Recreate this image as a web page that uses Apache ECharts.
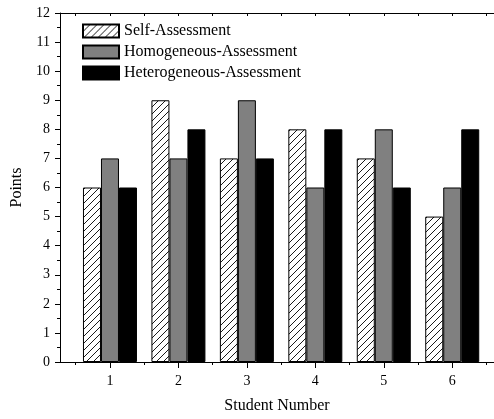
<!DOCTYPE html>
<html>
<head>
<meta charset="utf-8">
<script src="https://cdn.jsdelivr.net/npm/echarts@6/dist/echarts.min.js"></script>
<style>
  html, body { margin: 0; padding: 0; background: #fff; }
  #chart { width: 494px; height: 419px; }
</style>
</head>
<body>
<div id="chart"></div>
<script>
const students = [1, 2, 3, 4, 5, 6];
const selfScores = [6, 9, 7, 8, 7, 5];
const homoScores = [7, 7, 9, 6, 8, 6];
const heteroScores = [6, 8, 7, 8, 6, 8];
const yTicks = [0, 1, 2, 3, 4, 5, 6, 7, 8, 9, 10, 11, 12];
const halfTicks = [0.5, 1.5, 2.5, 3.5, 4.5, 5.5, 6.5];

const font = 'Liberation Serif';

// hatch pattern "/" for self-assessment bars
const hatch = document.createElement('canvas');
hatch.width = 7;
hatch.height = 7;
const hc = hatch.getContext('2d');
hc.fillStyle = '#fff';
hc.fillRect(0, 0, 7, 7);
hc.strokeStyle = '#000';
hc.lineWidth = 0.9;
hc.beginPath();
hc.moveTo(-1, 8); hc.lineTo(8, -1);
hc.moveTo(-1, 1); hc.lineTo(1, -1);
hc.moveTo(6, 8); hc.lineTo(8, 6);
hc.stroke();

const pairs = (vals) => students.map((s, i) => [s, vals[i]]);

const chart = echarts.init(document.getElementById('chart'));
const baseX = { type: 'value', min: 0.27, max: 6.61, splitLine: { show: false } };

chart.setOption({
  animation: false,
  grid: { left: 60, right: 0, top: 13, bottom: 52 },
  legend: {
    orient: 'vertical',
    left: 82,
    top: 23,
    padding: 0,
    icon: 'rect',
    itemWidth: 36,
    itemHeight: 13,
    itemGap: 5,
    textStyle: { fontFamily: font, fontSize: 16, color: '#000' },
    data: ['Self-Assessment', 'Homogeneous-Assessment', 'Heterogeneous-Assessment'],
  },
  xAxis: [
    {
      ...baseX,
      position: 'bottom',
      name: 'Student Number',
      nameLocation: 'middle',
      nameGap: 36,
      nameTextStyle: { fontFamily: font, fontSize: 16, color: '#000' },
      axisLine: { show: true, lineStyle: { color: '#000', width: 1 } },
      axisTick: { show: true, length: 6, customValues: students, lineStyle: { color: '#000' } },
      axisLabel: { customValues: students, margin: 12, fontFamily: font, fontSize: 14, color: '#000' },
    },
    {
      ...baseX,
      position: 'bottom',
      axisLine: { show: false },
      axisTick: { show: true, length: 3, customValues: halfTicks, lineStyle: { color: '#000' } },
      axisLabel: { show: false },
    },
    {
      ...baseX,
      position: 'top',
      axisLine: { show: true, lineStyle: { color: '#000', width: 1 } },
      axisTick: { show: true, inside: true, length: 3, customValues: students.concat(halfTicks), lineStyle: { color: '#000' } },
      axisLabel: { show: false },
    },
  ],
  yAxis: {
    type: 'value',
    min: 0,
    max: 12,
    interval: 1,
    name: 'Points',
    nameLocation: 'middle',
    nameGap: 35,
    nameTextStyle: { fontFamily: font, fontSize: 16, color: '#000' },
    axisLine: { show: true, lineStyle: { color: '#000', width: 1 } },
    axisTick: { show: true, length: 5, lineStyle: { color: '#000' } },
    minorTick: { show: true, splitNumber: 2, length: 3, lineStyle: { color: '#000' } },
    axisLabel: { margin: 10, fontFamily: font, fontSize: 14, color: '#000', customValues: yTicks },
    splitLine: { show: false },
  },
  series: [
    {
      name: 'Self-Assessment',
      type: 'bar',
      barWidth: 18,
      barGap: '0%',
      data: pairs(selfScores),
      itemStyle: { color: { image: hatch, repeat: 'repeat' }, borderColor: '#000', borderWidth: 1 },
    },
    {
      name: 'Homogeneous-Assessment',
      type: 'bar',
      barWidth: 18,
      barGap: '0%',
      data: pairs(homoScores),
      itemStyle: { color: '#808080', borderColor: '#000', borderWidth: 1 },
    },
    {
      name: 'Heterogeneous-Assessment',
      type: 'bar',
      barWidth: 18,
      barGap: '0%',
      data: pairs(heteroScores),
      itemStyle: { color: '#000', borderColor: '#000', borderWidth: 1 },
    },
  ],
});
</script>
</body>
</html>
